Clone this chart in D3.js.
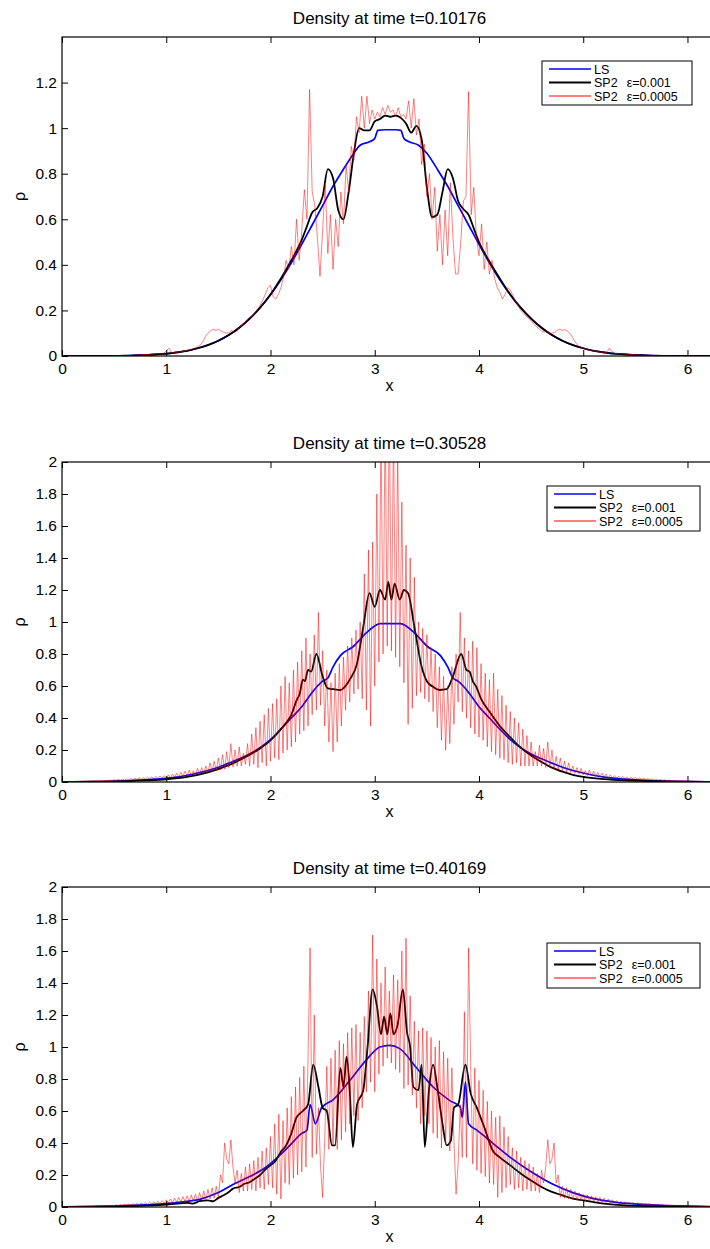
<!DOCTYPE html>
<html>
<head>
<meta charset="utf-8">
<script src="https://cdnjs.cloudflare.com/ajax/libs/d3/7.8.5/d3.min.js"></script>
<style>
body { margin: 0; background: #fff; }
svg { display: block; font-family: 'Liberation Sans', Arial, sans-serif; }
</style>
</head>
<body>
<svg id="densitySVG" width="710" height="1249"></svg>
<script>

var titles = ['Density at time t=0.10176', 'Density at time t=0.30528', 'Density at time t=0.40169'];
var legendNames = ['LS', 'SP2', 'SP2'];
var legendEps = ['', 'ε=0.001', 'ε=0.0005'];
var xTicks = [0, 1, 2, 3, 4, 5, 6];
var yTicksFirst = [0, 0.2, 0.4, 0.6, 0.8, 1, 1.2];
var yTicksOther = [0, 0.2, 0.4, 0.6, 0.8, 1, 1.2, 1.4, 1.6, 1.8, 2];
var yMax = [1.4, 2, 2];

// LS and SP2 eps=0.001 as [x, rho]
var ls1 = [[0,0],[0.5,0],[0.6,0.001],[0.7,0.003],[0.8,0.004],[0.9,0.007],[1.0,0.01],[1.1,0.016],[1.2,0.023],[1.3,0.034],[1.4,0.048],[1.5,0.067],[1.6,0.092],[1.7,0.124],[1.8,0.164],[1.9,0.212],[2.0,0.269],[2.1,0.335],[2.2,0.409],[2.3,0.49],[2.4,0.575],[2.5,0.66],[2.6,0.745],[2.7,0.82],[2.8,0.89],[2.86,0.925],[2.95,0.94],[3.0,0.955],[3.03,0.99],[3.1,0.993],[3.2,0.993],[3.25,0.99],[3.28,0.955],[3.33,0.94],[3.42,0.925],[3.5,0.89],[3.6,0.82],[3.7,0.745],[3.8,0.66],[3.9,0.575],[4.0,0.49],[4.1,0.409],[4.2,0.335],[4.3,0.269],[4.4,0.212],[4.5,0.164],[4.6,0.124],[4.7,0.092],[4.8,0.067],[4.9,0.048],[5.0,0.034],[5.1,0.023],[5.2,0.016],[5.3,0.01],[5.4,0.007],[5.5,0.004],[5.6,0.003],[5.7,0.001],[5.8,0],[6.3,0]];
var sp1 = [[0,0],[0.5,0],[0.6,0.001],[0.7,0.003],[0.8,0.004],[0.9,0.007],[1.0,0.01],[1.1,0.016],[1.2,0.023],[1.3,0.034],[1.4,0.048],[1.5,0.067],[1.6,0.092],[1.7,0.124],[1.8,0.164],[1.9,0.212],[2.0,0.27],[2.1,0.34],[2.2,0.42],[2.3,0.51],[2.35,0.57],[2.4,0.63],[2.45,0.65],[2.5,0.7],[2.55,0.82],[2.6,0.78],[2.65,0.64],[2.7,0.6],[2.75,0.72],[2.8,0.89],[2.85,1.0],[2.9,0.99],[2.95,0.99],[3.0,1.03],[3.05,1.04],[3.1,1.055],[3.15,1.05],[3.2,1.055],[3.25,1.045],[3.3,1.02],[3.35,0.98],[3.4,1.01],[3.45,0.95],[3.5,0.74],[3.55,0.61],[3.6,0.62],[3.65,0.72],[3.7,0.82],[3.75,0.78],[3.8,0.68],[3.85,0.645],[3.9,0.62],[3.95,0.56],[4.0,0.5],[4.1,0.415],[4.2,0.34],[4.3,0.27],[4.4,0.212],[4.5,0.164],[4.6,0.124],[4.7,0.092],[4.8,0.067],[4.9,0.048],[5.0,0.034],[5.1,0.023],[5.2,0.016],[5.3,0.01],[5.4,0.007],[5.5,0.004],[5.6,0.003],[5.7,0.001],[5.8,0],[6.3,0]];

var ls2 = [[0,0],[0.3,0.002],[0.5,0.005],[0.7,0.01],[0.9,0.018],[1.0,0.023],[1.1,0.03],[1.2,0.042],[1.3,0.056],[1.4,0.072],[1.5,0.092],[1.6,0.118],[1.7,0.145],[1.8,0.175],[1.9,0.215],[2.0,0.265],[2.1,0.33],[2.2,0.4],[2.3,0.47],[2.4,0.56],[2.5,0.63],[2.55,0.65],[2.6,0.72],[2.67,0.79],[2.8,0.85],[2.9,0.92],[3.0,0.975],[3.05,0.99],[3.25,0.99],[3.3,0.975],[3.4,0.92],[3.5,0.85],[3.63,0.79],[3.7,0.72],[3.75,0.65],[3.8,0.63],[3.9,0.56],[4.0,0.47],[4.1,0.4],[4.2,0.33],[4.3,0.265],[4.4,0.215],[4.5,0.175],[4.6,0.145],[4.7,0.118],[4.8,0.092],[4.9,0.072],[5.0,0.056],[5.1,0.042],[5.2,0.03],[5.3,0.023],[5.4,0.018],[5.6,0.01],[5.8,0.005],[6.0,0.002],[6.3,0]];
var sp2 = [[0,0],[0.3,0.002],[0.5,0.004],[0.8,0.01],[1.0,0.017],[1.2,0.032],[1.4,0.06],[1.6,0.105],[1.8,0.17],[1.9,0.21],[2.0,0.26],[2.1,0.33],[2.15,0.37],[2.2,0.42],[2.25,0.51],[2.28,0.55],[2.31,0.64],[2.33,0.63],[2.36,0.7],[2.39,0.69],[2.44,0.8],[2.5,0.66],[2.55,0.585],[2.6,0.58],[2.67,0.575],[2.72,0.6],[2.76,0.64],[2.83,0.74],[2.89,0.97],[2.95,1.18],[3.0,1.095],[3.05,1.2],[3.1,1.14],[3.13,1.25],[3.16,1.14],[3.19,1.24],[3.24,1.14],[3.28,1.2],[3.32,1.18],[3.38,0.97],[3.45,0.72],[3.5,0.63],[3.56,0.595],[3.62,0.575],[3.69,0.58],[3.75,0.66],[3.83,0.8],[3.88,0.7],[3.91,0.69],[3.94,0.63],[3.97,0.6],[4.02,0.52],[4.1,0.44],[4.2,0.35],[4.3,0.28],[4.4,0.215],[4.5,0.165],[4.6,0.125],[4.7,0.09],[4.8,0.065],[4.9,0.045],[5.0,0.032],[5.2,0.018],[5.4,0.01],[5.7,0.005],[6.0,0.002],[6.3,0]];

var ls3 = [[0,0],[0.3,0.003],[0.5,0.006],[0.8,0.013],[1.0,0.021],[1.2,0.036],[1.32,0.048],[1.5,0.09],[1.64,0.14],[1.8,0.19],[1.96,0.25],[2.1,0.33],[2.2,0.395],[2.3,0.46],[2.35,0.48],[2.38,0.64],[2.43,0.52],[2.49,0.62],[2.6,0.67],[2.76,0.79],[2.92,0.92],[3.05,1.0],[3.14,1.01],[3.24,0.99],[3.4,0.87],[3.56,0.75],[3.72,0.665],[3.82,0.625],[3.84,0.56],[3.87,0.78],[3.9,0.52],[3.98,0.48],[4.14,0.395],[4.3,0.31],[4.5,0.22],[4.7,0.145],[4.9,0.09],[5.1,0.052],[5.3,0.031],[5.5,0.019],[5.8,0.009],[6.0,0.005],[6.3,0.002]];
var sp3 = [[0,0],[0.5,0.004],[0.8,0.008],[1.0,0.015],[1.1,0.021],[1.2,0.026],[1.25,0.021],[1.32,0.036],[1.4,0.042],[1.45,0.036],[1.5,0.057],[1.55,0.073],[1.6,0.094],[1.64,0.115],[1.7,0.125],[1.75,0.145],[1.8,0.155],[1.85,0.177],[1.9,0.2],[1.96,0.24],[2.0,0.26],[2.05,0.29],[2.1,0.345],[2.15,0.385],[2.2,0.46],[2.25,0.56],[2.31,0.6],[2.36,0.64],[2.41,0.89],[2.46,0.75],[2.5,0.62],[2.54,0.6],[2.59,0.385],[2.62,0.385],[2.67,0.87],[2.7,0.75],[2.73,0.94],[2.76,0.73],[2.79,0.375],[2.83,0.64],[2.89,0.73],[2.93,0.99],[2.98,1.36],[3.02,1.26],[3.06,1.08],[3.09,1.19],[3.12,1.08],[3.15,1.21],[3.18,1.08],[3.22,1.14],[3.27,1.36],[3.31,1.09],[3.34,1.0],[3.37,0.75],[3.42,0.73],[3.45,0.89],[3.48,0.375],[3.52,0.73],[3.56,0.89],[3.6,0.75],[3.65,0.52],[3.69,0.385],[3.73,0.415],[3.76,0.62],[3.8,0.64],[3.87,0.89],[3.92,0.71],[3.98,0.62],[4.05,0.5],[4.13,0.355],[4.2,0.31],[4.3,0.26],[4.4,0.21],[4.5,0.165],[4.6,0.125],[4.7,0.094],[4.8,0.073],[4.9,0.052],[5.0,0.042],[5.2,0.021],[5.4,0.01],[5.7,0.005],[6.3,0]];

// SP2 eps=0.0005 sampled on an even grid (step per panel below)
var fineStep = [0.025, 0.02, 0.02];

var fine1 = [
0,0,0,0,0,0,0,0,0,0, 0,0,0,0,0,0,0,0,0,0,
0,0,0.001,0.001,0.001,0.002,0.002,0.003,0.003,0.004,
0.004,0.005,0.006,0.006,0.008,0.009,0.011,0.01,0.009,0.012,
0.022,0.035,0.016,0.013,0.016,0.018,0.02,0.022,0.025,0.028,
0.031,0.035,0.04,0.047,0.062,0.085,0.1,0.11,0.118,0.112,
0.118,0.11,0.104,0.1,0.102,0.112,0.104,0.108,0.125,0.135,
0.145,0.16,0.17,0.175,0.19,0.205,0.222,0.245,0.27,0.3,
0.31,0.26,0.25,0.27,0.3,0.345,0.42,0.38,0.48,0.4,
0.6,0.42,0.55,0.73,0.6,1.17,0.72,0.66,0.52,0.35,
0.55,0.76,0.45,0.62,0.38,0.6,0.48,0.72,0.58,0.84,
0.72,0.92,0.86,1.05,0.98,1.14,1.0,1.14,1.02,1.08,
1.04,1.07,1.05,1.09,1.06,1.1,
1.07,1.08,1.05,1.09,1.05,1.06,
1.04,1.12,1.0,1.13,0.97,1.04,0.84,0.93,0.7,0.8,
0.6,0.74,0.46,0.62,0.4,0.64,0.44,0.76,0.52,0.36,
0.36,0.5,0.68,0.7,1.16,0.62,0.74,0.52,0.44,0.58,
0.38,0.5,0.36,0.42,0.34,0.3,0.28,0.25,0.27,0.3,
0.29,0.265,0.24,0.22,0.2,0.19,0.175,0.165,0.155,0.14,
0.13,0.12,0.11,0.105,0.11,0.1,0.1,0.104,0.112,0.118,
0.112,0.116,0.108,0.098,0.08,0.06,0.046,0.04,0.034,0.03,
0.027,0.024,0.022,0.02,0.018,0.016,0.013,0.016,0.034,0.02,
0.012,0.009,0.01,0.011,0.009,0.008,0.006,0.006,0.005,0.004,
0.004,0.003,0.003,0.002,0.002,0.001,0.001,0.001,0,0,
0,0,0,0,0,0,0,0,0,0, 0,0,0,0,0,0,0,0,0,0, 0
];

var fine2 = [
0.002,0.003,0.002,0.003,0.002,0.003,0.003,0.004,0.003,0.004,
0.004,0.005,0.004,0.006,0.005,0.006,0.005,0.007,0.006,0.008,
0.007,0.01,0.008,0.012,0.009,0.014,0.01,0.016,0.011,0.018,
0.012,0.02,0.013,0.022,0.014,0.024,0.015,0.026,0.016,0.028,
0.018,0.03,0.02,0.032,0.021,0.035,0.022,0.038,0.024,0.04,
0.025,0.045,0.027,0.05,0.03,0.055,0.032,0.06,0.035,0.068,
0.038,0.075,0.04,0.07,0.045,0.085,0.05,0.09,0.055,0.1,
0.06,0.12,0.065,0.13,0.07,0.15,0.075,0.17,0.08,0.19,
0.09,0.24,0.095,0.2,0.1,0.22,0.1,0.18,0.11,0.24,
0.1,0.3,0.11,0.34,0.09,0.38,0.12,0.42,0.1,0.46,
0.13,0.49,0.15,0.52,0.14,0.6,0.18,0.66,0.2,0.62,
0.22,0.7,0.25,0.75,0.3,0.82,0.32,0.9,0.35,0.8,
0.42,0.92,0.45,1.06,0.48,0.82,0.35,0.7,0.25,0.62,
0.19,0.68,0.25,0.74,0.35,0.78,0.45,0.85,0.5,0.9,
0.55,0.95,0.58,1.0,0.52,1.3,0.45,1.45,0.35,1.5,
0.6,1.8,0.75,2.2,0.8,2.3,0.85,2.4,
0.82,2.25,0.78,2.1,0.72,1.75,0.62,
1.48,0.36,1.4,0.46,1.28,0.54,1.0,0.56,0.96,0.52,
0.92,0.5,0.84,0.44,0.8,0.34,0.72,0.26,0.66,0.2,
0.6,0.24,0.72,0.36,0.8,0.5,1.06,0.44,0.9,0.4,
0.82,0.34,0.88,0.3,0.84,0.28,0.74,0.26,0.68,0.22,
0.64,0.19,0.68,0.17,0.58,0.15,0.54,0.14,0.48,0.12,
0.44,0.11,0.4,0.12,0.37,0.1,0.33,0.1,0.29,0.1,
0.25,0.1,0.19,0.1,0.23,0.1,0.21,0.09,0.25,0.09,
0.2,0.08,0.16,0.075,0.15,0.07,0.13,0.06,0.12,0.06,
0.1,0.055,0.09,0.05,0.085,0.045,0.07,0.04,0.075,0.038,
0.068,0.035,0.06,0.032,0.055,0.03,0.05,0.027,0.045,0.025,
0.04,0.024,0.038,0.022,0.035,0.021,0.032,0.02,0.03,0.018,
0.028,0.016,0.026,0.015,0.024,0.014,0.022,0.013,0.02,0.012,
0.018,0.011,0.016,0.01,0.014,0.009,0.012,0.008,0.01,0.007,
0.008,0.006,0.007,0.005,0.006,0.005,0.006,0.004,0.005,0.004,
0.004,0.003,0.004,0.003,0.003,0.002,0.003,0.002,0.003,0.002,0.002
];

var fine3 = [
0.002,0.002,0.003,0.002,0.003,0.003,0.004,0.003,0.004,0.004,
0.005,0.004,0.006,0.005,0.006,0.005,0.007,0.006,0.008,0.006,
0.008,0.007,0.01,0.008,0.011,0.009,0.013,0.01,0.014,0.011,
0.016,0.012,0.018,0.013,0.02,0.014,0.022,0.015,0.025,0.016,
0.028,0.017,0.03,0.018,0.033,0.02,0.036,0.022,0.04,0.024,
0.045,0.026,0.05,0.028,0.055,0.03,0.06,0.032,0.065,0.034,
0.07,0.036,0.075,0.038,0.08,0.04,0.09,0.042,0.1,0.045,
0.11,0.05,0.12,0.055,0.13,0.06,0.2,0.15,0.4,0.3,
0.27,0.42,0.25,0.15,0.23,0.09,0.21,0.1,0.25,0.1,
0.27,0.11,0.29,0.1,0.31,0.12,0.35,0.11,0.37,0.14,
0.44,0.12,0.52,0.08,0.58,0.05,0.54,0.15,0.62,0.14,
0.69,0.18,0.75,0.2,0.81,0.22,0.88,0.25,0.93,1.62,
0.31,1.2,0.33,0.62,0.26,0.06,0.42,0.88,0.36,0.93,
0.39,0.98,0.36,1.04,0.42,1.02,0.47,1.09,0.52,1.12,
0.57,1.14,0.54,1.09,0.62,1.19,0.72,1.35,0.78,1.7,
0.72,1.55,0.83,1.4,0.88,1.5,0.93,1.35,
0.9,1.45,0.86,1.42,0.84,1.6,0.74,
1.68,0.76,1.32,0.7,1.16,0.62,1.1,0.52,1.12,0.57,
1.1,0.52,1.06,0.46,1.0,0.43,1.04,0.37,0.97,0.39,
0.93,0.35,0.87,0.41,0.08,0.27,0.64,0.31,1.22,0.31,
1.62,0.91,0.27,0.87,0.23,0.79,0.21,0.73,0.19,0.66,
0.15,0.6,0.14,0.56,0.06,0.57,0.09,0.5,0.12,0.44,
0.14,0.37,0.11,0.35,0.12,0.31,0.1,0.29,0.11,0.27,
0.1,0.25,0.1,0.21,0.09,0.23,0.15,0.25,0.42,0.27,
0.3,0.4,0.15,0.2,0.06,0.13,0.055,0.12,0.05,0.11,
0.045,0.1,0.042,0.09,0.04,0.08,0.038,0.075,0.036,0.07,
0.034,0.065,0.032,0.06,0.03,0.055,0.028,0.05,0.026,0.045,
0.024,0.04,0.022,0.036,0.02,0.033,0.018,0.03,0.017,0.028,
0.016,0.025,0.015,0.022,0.014,0.02,0.013,0.018,0.012,0.016,
0.011,0.014,0.01,0.013,0.009,0.011,0.008,0.01,0.007,0.008,
0.006,0.008,0.006,0.007,0.005,0.006,0.005,0.006,0.004,0.005,
0.004,0.004,0.003,0.004,0.003,0.003,0.002,0.003,0.002,0.002,0.002
];

var lsData = [ls1, ls2, ls3];
var spData = [sp1, sp2, sp3];
var fineData = [fine1, fine2, fine3];

var layout = [
    { top: 37, bottom: 356, legend: { x: 542, y: 61, w: 150, h: 44 } },
    { top: 462, bottom: 782, legend: { x: 547, y: 486, w: 153, h: 45 } },
    { top: 887, bottom: 1207, legend: { x: 547, y: 943, w: 153, h: 45 } }
];

var colors = ['#0000ff', '#000000', '#ff0000'];
var widths = [1.7, 1.8, 0.5];

var svg = d3.select('#densitySVG');

function buildPanel(i) {
    var box = layout[i];

    var x = d3.scaleLinear()
        .domain([0, 2 * Math.PI])
        .range([62, 717]);

    var y = d3.scaleLinear()
        .domain([0, yMax[i]])
        .range([box.bottom, box.top]);

    var g = svg.append('g');

    g.append('clipPath')
        .attr('id', 'clip' + i)
        .append('rect')
            .attr('x', x(0))
            .attr('y', box.top)
            .attr('width', x(2 * Math.PI) - x(0))
            .attr('height', box.bottom - box.top);

    var smooth = d3.line()
        .curve(d3.curveMonotoneX)
        .x(function(d) { return x(d[0]); })
        .y(function(d) { return y(d[1]); });

    var rough = d3.line()
        .x(function(d, j) { return x(j * fineStep[i]); })
        .y(function(d) { return y(d); });

    var plot = g.append('g')
        .attr('clip-path', 'url(#clip' + i + ')');

    plot.append('path')
        .datum(lsData[i])
        .attr('fill', 'none')
        .attr('stroke', colors[0])
        .attr('stroke-width', widths[0])
        .attr('d', smooth);

    plot.append('path')
        .datum(spData[i])
        .attr('fill', 'none')
        .attr('stroke', colors[1])
        .attr('stroke-width', widths[1])
        .attr('d', smooth);

    plot.append('path')
        .datum(fineData[i])
        .attr('fill', 'none')
        .attr('stroke', colors[2])
        .attr('stroke-width', widths[2])
        .attr('stroke-linejoin', 'round')
        .attr('d', rough);

    // axes, ticks pointing inward like matlab
    var yTicks = i === 0 ? yTicksFirst : yTicksOther;

    var bottomAxis = g.append('g')
        .attr('transform', 'translate(0,' + box.bottom + ')')
        .call(d3.axisBottom(x).tickValues(xTicks).tickSizeInner(-6).tickSizeOuter(0).tickPadding(7).tickFormat(d3.format('~g')));

    var topAxis = g.append('g')
        .attr('transform', 'translate(0,' + box.top + ')')
        .call(d3.axisTop(x).tickValues(xTicks).tickSizeInner(-6).tickSizeOuter(0).tickFormat(''));

    var leftAxis = g.append('g')
        .attr('transform', 'translate(' + x(0) + ',0)')
        .call(d3.axisLeft(y).tickValues(yTicks).tickSizeInner(-6).tickSizeOuter(0).tickPadding(5).tickFormat(d3.format('~g')));

    [bottomAxis, topAxis, leftAxis].forEach(function(a) {
        a.select('.domain').remove();
        a.selectAll('line').attr('stroke', '#000').attr('stroke-width', 1);
        a.selectAll('text')
            .attr('fill', '#000')
            .style('font-family', "'Liberation Sans', Arial, sans-serif")
            .style('font-size', '15.5px');
    });

    g.append('rect')
        .attr('x', x(0))
        .attr('y', box.top)
        .attr('width', x(2 * Math.PI) - x(0))
        .attr('height', box.bottom - box.top)
        .attr('fill', 'none')
        .attr('stroke', '#000')
        .attr('stroke-width', 1.2);

    g.append('text')
        .attr('x', (x(0) + x(2 * Math.PI)) / 2)
        .attr('y', box.top - 13)
        .attr('text-anchor', 'middle')
        .style('font-size', '17px')
        .text(titles[i]);

    g.append('text')
        .attr('x', (x(0) + x(2 * Math.PI)) / 2)
        .attr('y', box.bottom + 35)
        .attr('text-anchor', 'middle')
        .style('font-size', '16px')
        .text('x');

    g.append('text')
        .attr('transform', 'translate(25,' + ((box.top + box.bottom) / 2) + ') rotate(-90)')
        .attr('text-anchor', 'middle')
        .style('font-size', '16px')
        .text('ρ');

    // legend
    var lg = g.append('g')
        .attr('transform', 'translate(' + box.legend.x + ',' + box.legend.y + ')');

    lg.append('rect')
        .attr('width', box.legend.w)
        .attr('height', box.legend.h)
        .attr('fill', '#fff')
        .attr('stroke', '#000')
        .attr('stroke-width', 1);

    legendNames.forEach(function(name, k) {
        var rowY = 8 + k * 13.5;
        lg.append('line')
            .attr('x1', 7)
            .attr('x2', 49)
            .attr('y1', rowY)
            .attr('y2', rowY)
            .attr('stroke', colors[k])
            .attr('stroke-width', k === 2 ? 1 : widths[k]);

        var t = lg.append('text')
            .attr('x', 52)
            .attr('y', rowY + 4.5)
            .style('font-size', '12.5px')
            .text(name);

        if (legendEps[k] !== '') {
            t.append('tspan')
                .attr('dx', 9)
                .text(legendEps[k]);
        }
    });
}

for (var i = 0; i < 3; i++) {
    buildPanel(i);
}

</script>
</body>
</html>
